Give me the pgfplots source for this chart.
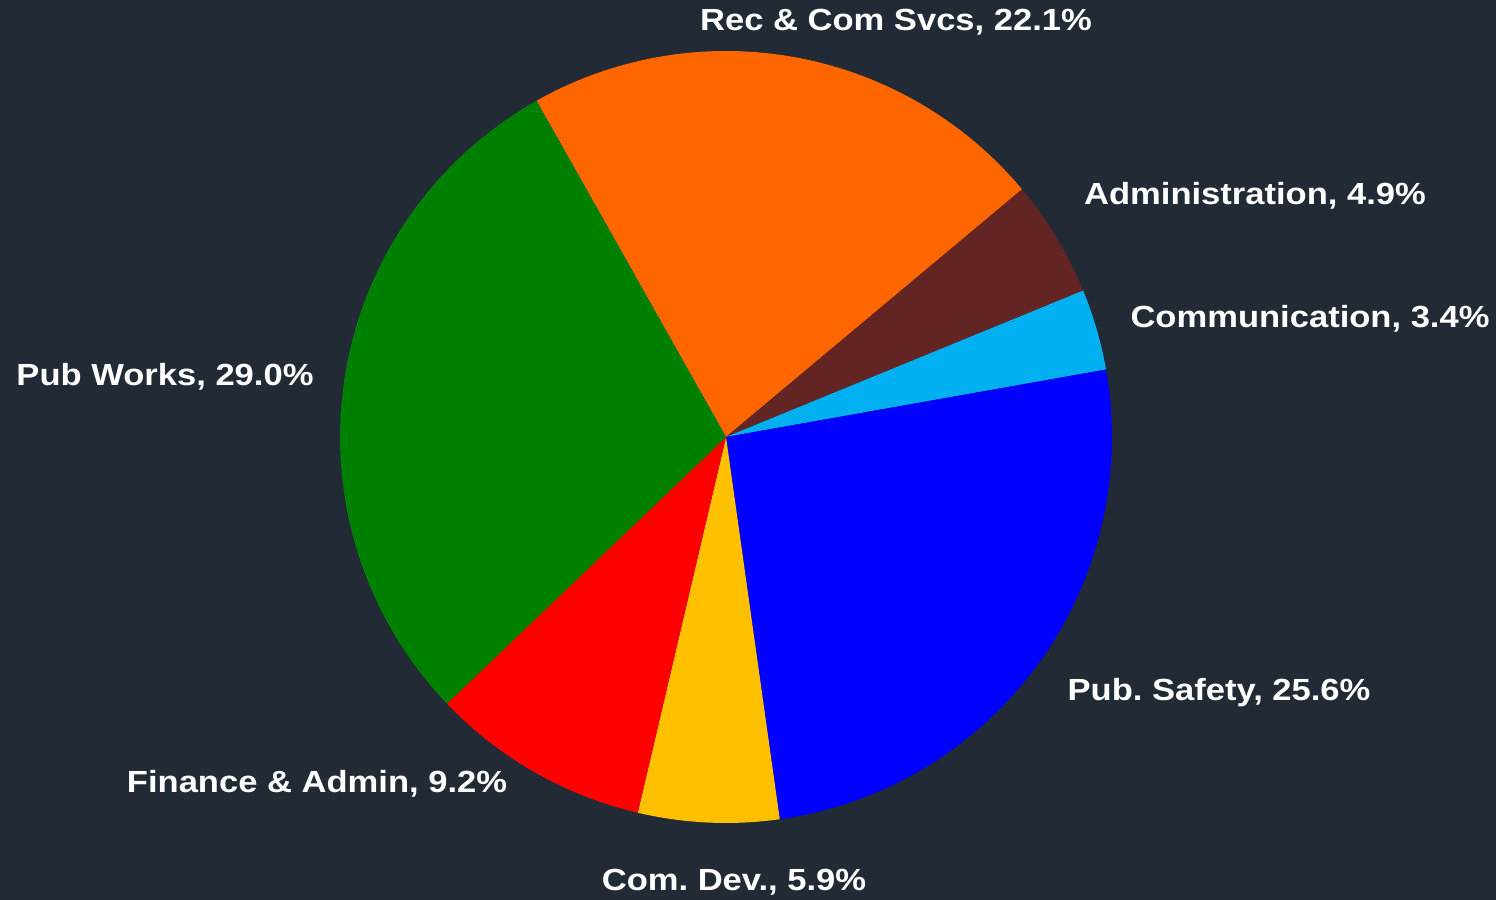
\documentclass[border=0pt]{standalone}
\usepackage{pgfplots}
\pgfplotsset{compat=1.18}
\usepackage{fontspec}
\setmainfont{Liberation Sans}
\newfontfamily\labelfont[FakeStretch=1.13]{Liberation Sans}
\definecolor{bg}{HTML}{222A35}
\definecolor{cRec}{HTML}{FF6600}
\definecolor{cAdm}{HTML}{632523}
\definecolor{cCom}{HTML}{00B0F0}
\definecolor{cSaf}{HTML}{0000FF}
\definecolor{cDev}{HTML}{FFC000}
\definecolor{cFin}{HTML}{FF0000}
\definecolor{cPub}{HTML}{008000}
\def\tot{100.1}
\def\curang{119.4}
\newcommand\slice[2]{%
  \pgfmathsetmacro\endang{\curang-#1/\tot*360}%
  \edef\next{\noexpand\addplot[fill=#2,draw=none,domain=\endang:\curang,samples=90,variable=\noexpand\t]
    ({726+386*cos(\noexpand\t)},{463+386*sin(\noexpand\t)}) -- (axis cs:726,463) -- cycle;}%
  \next
  \global\let\curang\endang}
\frenchspacing
\begin{document}
\begin{tikzpicture}
\begin{axis}[
  width=14.96cm, height=9cm, scale only axis,
  xmin=0, xmax=1496, ymin=0, ymax=900,
  hide axis, clip=false]
\fill[bg] (axis cs:0,0) rectangle (axis cs:1496,900);
\slice{22.1}{cRec}
\slice{4.9}{cAdm}
\slice{3.4}{cCom}
\slice{25.6}{cSaf}
\slice{5.9}{cDev}
\slice{9.2}{cFin}
\slice{29.0}{cPub}
\begin{scope}[every node/.style={inner sep=0pt,text=white,font=\labelfont\fontsize{8.7}{10}\selectfont\bfseries}]
\node at (axis cs:896,878) {Rec \& Com Svcs, 22.1\%};
\node at (axis cs:1255,704) {Administration, 4.9\%};
\node at (axis cs:1310,581) {Communication, 3.4\%};
\node at (axis cs:1219,207) {Pub. Safety, 25.6\%};
\node at (axis cs:734,18) {Com. Dev., 5.9\%};
\node at (axis cs:317,116) {Finance \& Admin, 9.2\%};
\node at (axis cs:165,523) {Pub Works, 29.0\%};
\end{scope}
\end{axis}
\end{tikzpicture}
\end{document}
